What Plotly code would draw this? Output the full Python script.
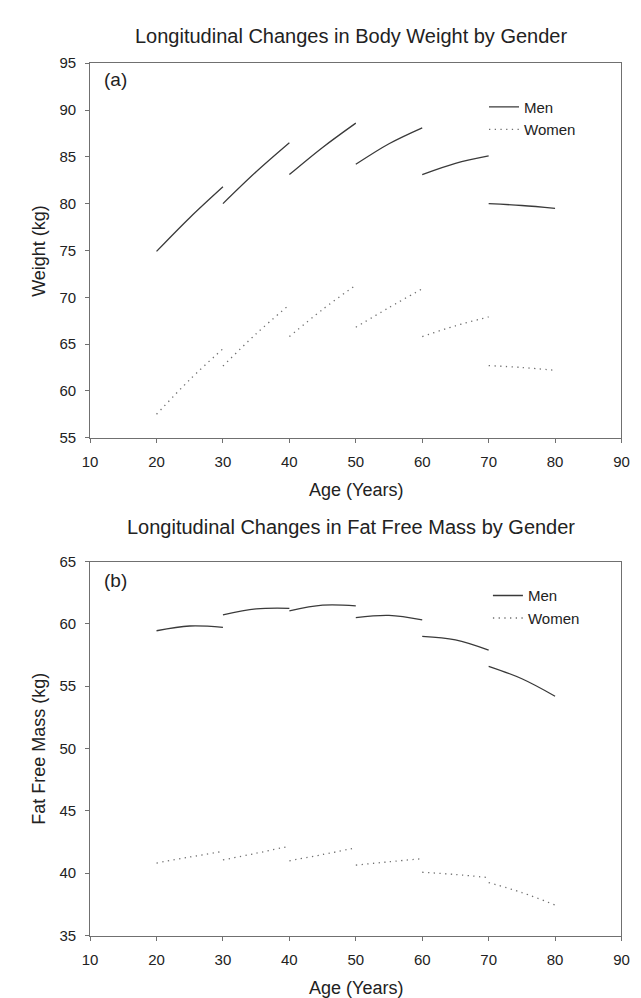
import plotly.graph_objects as go

# ---- data ----
seg_start = [20, 30, 40, 50, 60, 70]          # start age of each 10-year follow-up segment
seg_offsets = [0, 5, 10]                       # start, middle, end of a segment (years)

men_weight = [[74.9, 78.5, 81.8], [80.0, 83.4, 86.5], [83.1, 86.0, 88.6],
              [84.2, 86.4, 88.1], [83.1, 84.3, 85.1], [80.0, 79.8, 79.5]]
women_weight = [[57.5, 61.2, 64.5], [62.65, 66.1, 69.2], [65.8, 68.7, 71.3],
                [66.8, 68.9, 70.9], [65.8, 66.95, 67.9], [62.7, 62.5, 62.2]]

men_ffm = [[59.45, 59.83, 59.72], [60.72, 61.2, 61.25], [61.05, 61.5, 61.45],
           [60.5, 60.68, 60.32], [59.0, 58.72, 57.9], [56.6, 55.6, 54.2]]
women_ffm = [[40.82, 41.3, 41.75], [41.07, 41.6, 42.17], [41.0, 41.5, 42.04],
             [40.65, 40.92, 41.17], [40.08, 39.9, 39.65], [39.25, 38.45, 37.45]]

x_ticks = [10, 20, 30, 40, 50, 60, 70, 80, 90]
y_ticks_a = [55, 60, 65, 70, 75, 80, 85, 90, 95]
y_ticks_b = [35, 40, 45, 50, 55, 60, 65]

titles = ["Longitudinal Changes in Body Weight by Gender",
          "Longitudinal Changes in Fat Free Mass by Gender"]
y_titles = ["Weight (kg)", "Fat Free Mass (kg)"]
x_title = "Age (Years)"
panel_tags = ["(a)", "(b)"]
series_names = ["Men", "Women"]


def build(segs):
    xs, ys = [], []
    for s, vals in zip(seg_start, segs):
        for off, v in zip(seg_offsets, vals):
            xs.append(s + off)
            ys.append(v)
        xs.append(None)
        ys.append(None)
    return xs, ys


W, H = 641, 998
FONT = "Liberation Sans, Arial, sans-serif"
TXT = "#222222"
FRAME = "#707070"

def px_x(p):
    return p / W

def px_y(p):
    return 1 - p / H

fig = go.Figure()

panels = [
    dict(men=men_weight, women=women_weight, xa="x", ya="y", legend="legend"),
    dict(men=men_ffm, women=women_ffm, xa="x2", ya="y2", legend="legend2"),
]
for p in panels:
    mx, my = build(p["men"])
    wx, wy = build(p["women"])
    fig.add_trace(go.Scatter(x=mx, y=my, mode="lines", name=series_names[0],
                             line=dict(color="#3a3a3a", width=1.3, shape="spline"),
                             xaxis=p["xa"], yaxis=p["ya"], legend=p["legend"],
                             connectgaps=False, hoverinfo="skip"))
    fig.add_trace(go.Scatter(x=wx, y=wy, mode="lines", name=series_names[1],
                             line=dict(color="#707070", width=1.3, dash="1.3px,4.4px", shape="spline"),
                             xaxis=p["xa"], yaxis=p["ya"], legend=p["legend"],
                             connectgaps=False, hoverinfo="skip"))

xdom = [px_x(76), px_x(621)]
ydom_a = [px_y(428), px_y(47)]
ydom_b = [px_y(934.5), px_y(554)]

axis_common = dict(showline=True, linecolor=FRAME, linewidth=1, mirror=True,
                   ticks="outside", ticklen=4, tickcolor=FRAME, tickwidth=1,
                   showgrid=False, zeroline=False,
                   tickfont=dict(family=FONT, size=15, color=TXT))

fig.update_layout(
    width=W, height=H,
    margin=dict(l=0, r=0, t=0, b=0),
    paper_bgcolor="white", plot_bgcolor="white",
    showlegend=True,
    xaxis=dict(domain=xdom, range=[10, 90], tickvals=x_ticks, anchor="y",
               ticklabelstandoff=6, **axis_common),
    yaxis=dict(domain=ydom_a, range=[55, 95], tickvals=y_ticks_a, anchor="x",
               ticklabelstandoff=6, **axis_common),
    xaxis2=dict(domain=xdom, range=[10, 90], tickvals=x_ticks, anchor="y2",
                ticklabelstandoff=6, **axis_common),
    yaxis2=dict(domain=ydom_b, range=[35, 65], tickvals=y_ticks_b, anchor="x2",
                ticklabelstandoff=6, **axis_common),
    legend=dict(x=px_x(480), y=px_y(75), xanchor="left", yanchor="top",
                bgcolor="rgba(0,0,0,0)", borderwidth=0, tracegroupgap=0,
                font=dict(family=FONT, size=15, color=TXT)),
    legend2=dict(x=px_x(484), y=px_y(572), xanchor="left", yanchor="top",
                 bgcolor="rgba(0,0,0,0)", borderwidth=0, tracegroupgap=0,
                 font=dict(family=FONT, size=15, color=TXT)),
)

ann = []
# chart titles
for t, yy in zip(titles, [19, 519]):
    ann.append(dict(text=t, x=px_x(344), y=px_y(yy), xref="paper", yref="paper",
                    showarrow=False, xanchor="center", yanchor="middle",
                    font=dict(family=FONT, size=20, color=TXT)))
# x axis titles
for yy in [481, 988]:
    ann.append(dict(text=x_title, x=px_x(348.5), y=px_y(yy), xref="paper", yref="paper",
                    showarrow=False, xanchor="center", yanchor="middle",
                    font=dict(family=FONT, size=18, color=TXT)))
# y axis titles
for t, yy in zip(y_titles, [237.5, 744]):
    ann.append(dict(text=t, x=px_x(24), y=px_y(yy), xref="paper", yref="paper",
                    showarrow=False, xanchor="center", yanchor="middle", textangle=-90,
                    font=dict(family=FONT, size=18, color=TXT)))
# panel tags
for t, yy in zip(panel_tags, [64, 573]):
    ann.append(dict(text=t, x=px_x(88), y=px_y(yy), xref="paper", yref="paper",
                    showarrow=False, xanchor="left", yanchor="middle",
                    font=dict(family=FONT, size=19, color=TXT)))
fig.update_layout(annotations=ann)

fig.write_html("out.html")
